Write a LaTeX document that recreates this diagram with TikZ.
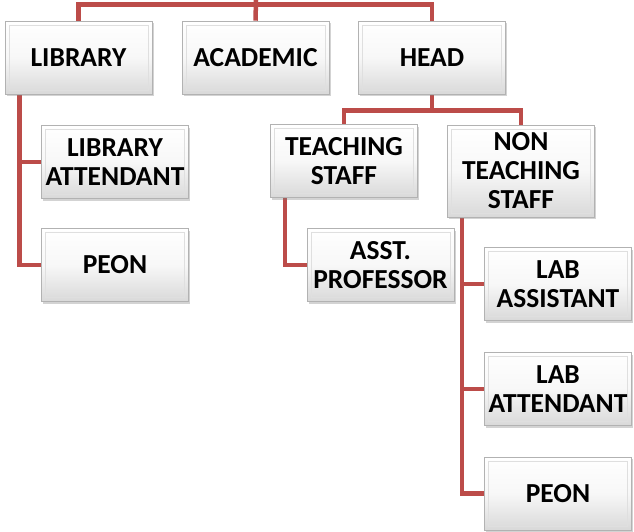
\documentclass[tikz,border=0pt]{standalone}
\usepackage{fontspec}
\setmainfont{Carlito}
\usetikzlibrary{shadows,backgrounds}
\definecolor{linkred}{RGB}{188,76,73}
\tikzset{
  orgbox/.style={rectangle, draw=gray!60, line width=0.6pt,
    top color=white, bottom color=gray!30, middle color=gray!6,
    minimum width=147pt, minimum height=73pt, inner sep=1pt,
    text width=145pt, align=center,
    font=\fontsize{27.5}{29}\selectfont\bfseries,
    drop shadow={shadow xshift=1.5pt, shadow yshift=-2pt, opacity=0.35},
    path picture={\draw[gray!25, line width=0.5pt]
      ([shift={(4pt,-4pt)}]path picture bounding box.north west) rectangle
      ([shift={(-4pt,4pt)}]path picture bounding box.south east);}},
  link/.style={draw=linkred, line width=4.5pt}
}
\begin{document}
\begin{tikzpicture}[x=1pt,y=-1pt]
\useasboundingbox (0,0) rectangle (634,531);
\coordinate (top) at (256,0);
\node[orgbox] (lib) at (78.5,57.5) {LIBRARY};
\node[orgbox] (acad) at (255.5,57.5) {ACADEMIC};
\node[orgbox] (head) at (432,57.5) {HEAD};
\node[orgbox] (libatt) at (115,162) {LIBRARY\\ATTENDANT};
\node[orgbox] (peonA) at (115,265) {PEON};
\node[orgbox] (teach) at (344,161) {TEACHING\\STAFF};
\node[orgbox, minimum height=92pt] (nonteach) at (521,171) {NON\\TEACHING\\STAFF};
\node[orgbox] (asst) at (380.5,265) {ASST.\\PROFESSOR};
\node[orgbox] (labass) at (558,284) {LAB\\ASSISTANT};
\node[orgbox] (labatt) at (558,389) {LAB\\ATTENDANT};
\node[orgbox] (peonB) at (558,493.5) {PEON};
\begin{scope}[on background layer]
\path[link] (top) -- (acad.north);
\path[link] (lib.north) -- ++(0,-16) -| (head.north);
\path[link] ([xshift=15pt]lib.south west) |- (libatt.west);
\path[link] ([xshift=15pt]lib.south west) |- (peonA.west);
\path[link] (head.south) -- ++(0,16) -| (teach.north);
\path[link] (head.south) -- ++(0,16) -| (nonteach.north);
\path[link] ([xshift=15pt]teach.south west) |- (asst.west);
\path[link] ([xshift=15pt]nonteach.south west) |- (labass.west);
\path[link] ([xshift=15pt]nonteach.south west) |- (labatt.west);
\path[link] ([xshift=15pt]nonteach.south west) |- (peonB.west);
\end{scope}
\end{tikzpicture}
\end{document}
